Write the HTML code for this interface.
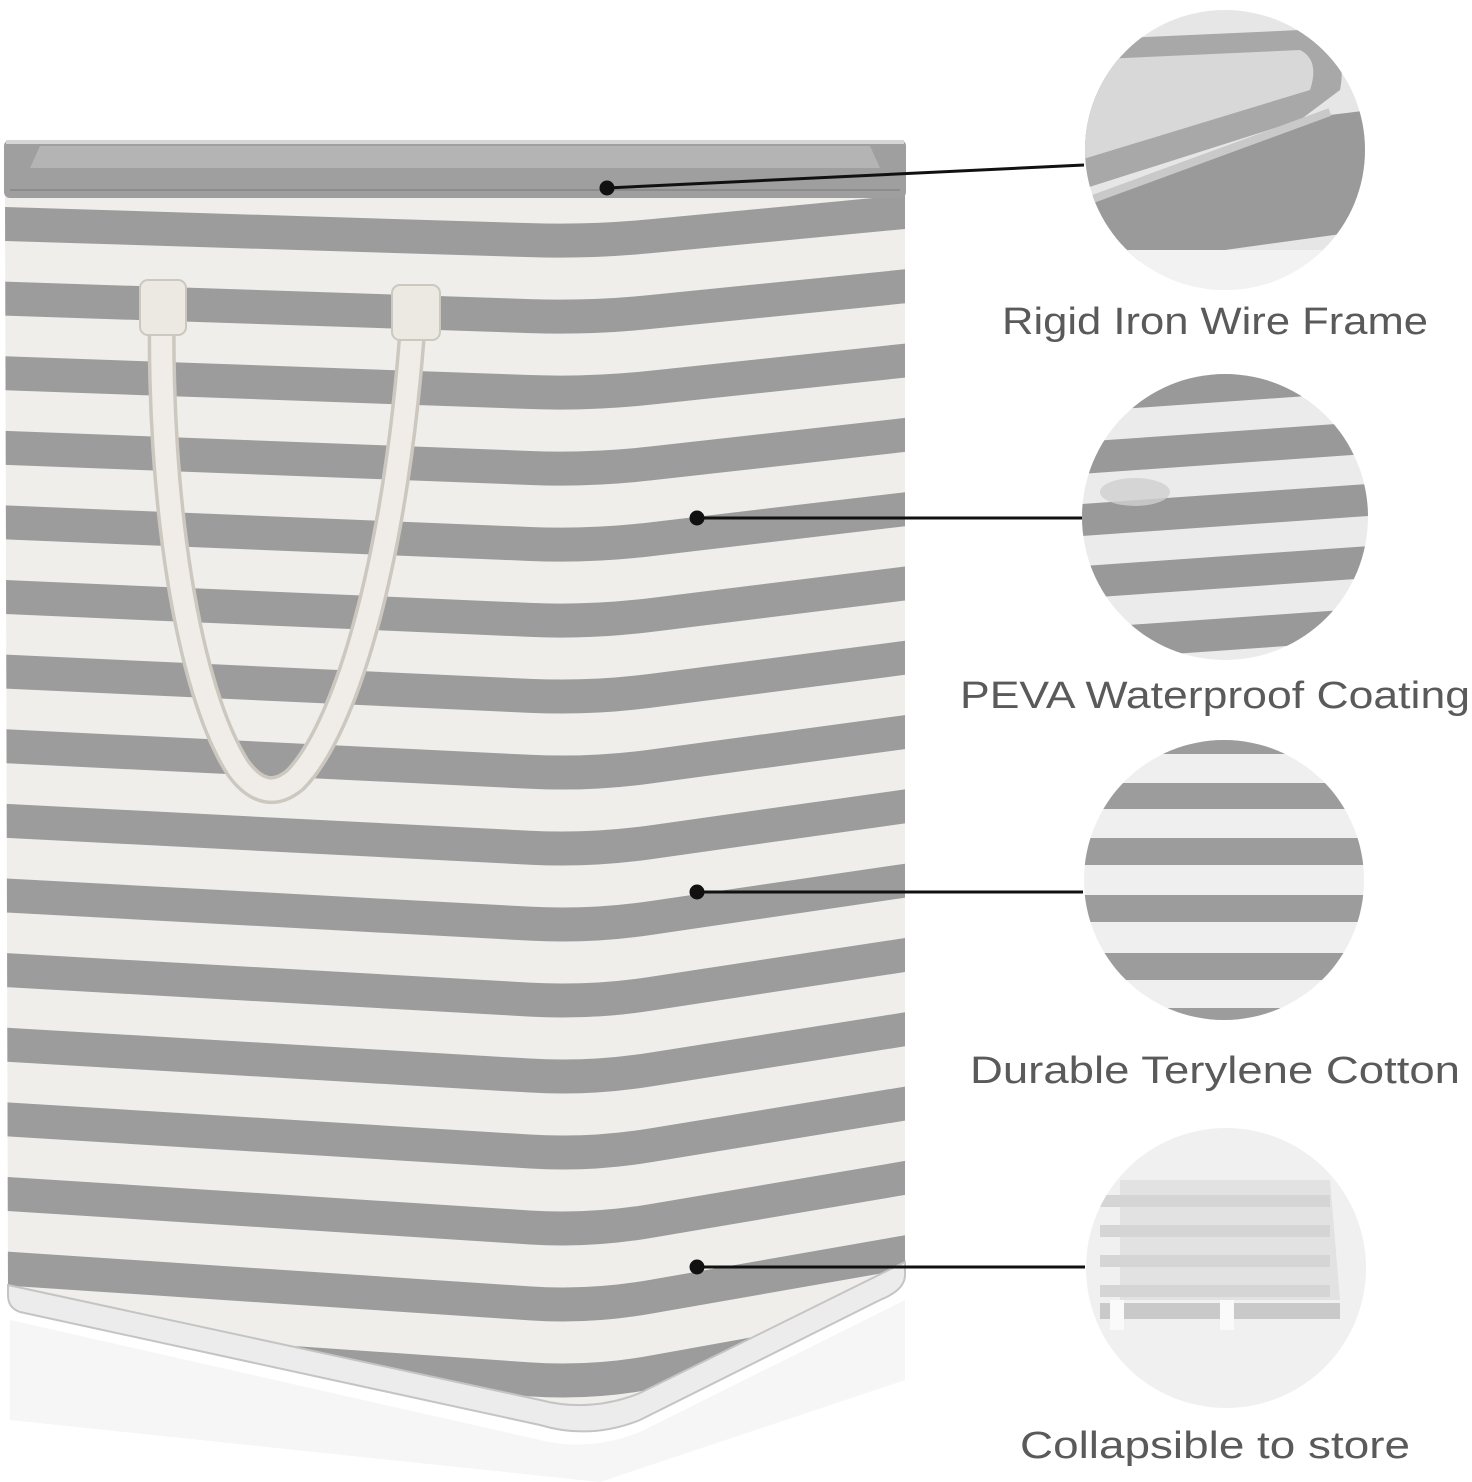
<!DOCTYPE html>
<html><head><meta charset="utf-8"><style>
html,body{margin:0;padding:0;background:#fff;}
svg{display:block}
text{font-family:"Liberation Sans",sans-serif;fill:#5a5a5a;}
</style></head><body>
<svg id="s" width="1472" height="1482" viewBox="0 0 1472 1482" xmlns="http://www.w3.org/2000/svg">
<defs>
<clipPath id="body"><path d="M5,192 L905,192 L905,1275 Q905,1290 880,1300 L640,1420 Q590,1440 540,1425 L20,1312 Q8,1308 8,1295 Z"/></clipPath>
<clipPath id="c1"><circle cx="1225" cy="150" r="140"/></clipPath>
<clipPath id="c2"><circle cx="1225" cy="517" r="143"/></clipPath>
<clipPath id="c3"><circle cx="1224" cy="880" r="140"/></clipPath>
<clipPath id="c4"><circle cx="1226" cy="1268" r="140"/></clipPath>
</defs>
<path d="M10,1320 L540,1440 Q590,1452 640,1432 L905,1300 L905,1380 L600,1482 L10,1420 Z" fill="#f6f6f6"/>
<g clip-path="url(#body)">
<rect x="0" y="190" width="910" height="1260" fill="#efeeeb"/>
<g id="stripes" fill="#9c9c9c"></g>
</g>
<path d="M8,1285 L540,1400 Q590,1413 640,1393 L905,1262 L905,1275 Q905,1290 880,1300 L640,1420 Q590,1440 540,1425 L20,1312 Q8,1308 8,1295 Z" fill="#ececec" stroke="#c4c4c4" stroke-width="2"/>
<rect x="4" y="140" width="902" height="58" rx="6" fill="#9f9f9f"/>
<path d="M40,146 L870,146 L880,168 L30,168 Z" fill="#b4b4b4"/>
<path d="M6,142 L904,142" stroke="#d6d6d6" stroke-width="4"/>
<path d="M10,190 L900,190" stroke="#8c8c8c" stroke-width="2"/>
<path d="M162,300 C158,500 188,690 238,768 Q265,805 295,780 C345,730 398,560 414,305" fill="none" stroke="#cdc8bf" stroke-width="28" stroke-linecap="round"/>
<path d="M162,300 C158,500 188,690 238,768 Q265,805 295,780 C345,730 398,560 414,305" fill="none" stroke="#f0ede8" stroke-width="21" stroke-linecap="round"/>
<rect x="140" y="280" width="46" height="55" rx="8" fill="#ece8e2" stroke="#cdc8bf" stroke-width="2"/>
<rect x="392" y="285" width="48" height="55" rx="8" fill="#ece8e2" stroke="#cdc8bf" stroke-width="2"/>
<g stroke="#111" stroke-width="3" fill="#111">
<line x1="607" y1="188" x2="1084" y2="165"/><circle cx="607" cy="188" r="6"/>
<line x1="697" y1="518" x2="1083" y2="518"/><circle cx="697" cy="518" r="6"/>
<line x1="697" y1="892" x2="1083" y2="892"/><circle cx="697" cy="892" r="6"/>
<line x1="697" y1="1267" x2="1085" y2="1267"/><circle cx="697" cy="1267" r="6"/>
</g>
<g clip-path="url(#c1)">
<rect x="1080" y="5" width="290" height="290" fill="#e6e6e6"/>
<path d="M1080,40 L1300,30 Q1350,40 1340,90 L1300,120 L1080,190 Z" fill="#a8a8a8"/>
<path d="M1080,60 L1300,50 Q1320,60 1310,90 L1080,160 Z" fill="#d8d8d8"/>
<path d="M1080,200 L1330,115 L1370,110 L1370,230 L1080,270 Z" fill="#9a9a9a"/>
<path d="M1090,200 L1330,112" stroke="#c9c9c9" stroke-width="8"/>
<rect x="1080" y="250" width="290" height="50" fill="#f2f2f2"/>
</g>
<g clip-path="url(#c2)">
<rect x="1080" y="370" width="290" height="300" fill="#ebebeb"/>
<g fill="#999" transform="rotate(-4 1225 517)">
<rect x="1060" y="372" width="330" height="30"/>
<rect x="1060" y="432" width="330" height="32"/>
<rect x="1060" y="494" width="330" height="32"/>
<rect x="1060" y="556" width="330" height="32"/>
<rect x="1060" y="618" width="330" height="32"/>
</g>
<ellipse cx="1135" cy="492" rx="35" ry="14" fill="#cfcfcf" opacity="0.8"/>
</g>
<g clip-path="url(#c3)">
<rect x="1080" y="740" width="290" height="280" fill="#efefef"/>
<g fill="#9c9c9c">
<rect x="1080" y="740" width="290" height="14"/>
<rect x="1080" y="783" width="290" height="26"/>
<rect x="1080" y="838" width="290" height="27"/>
<rect x="1080" y="895" width="290" height="27"/>
<rect x="1080" y="953" width="290" height="27"/>
<rect x="1080" y="1008" width="290" height="14"/>
</g>
</g>
<g clip-path="url(#c4)">
<rect x="1080" y="1120" width="295" height="295" fill="#f0f0f0"/>
<path d="M1120,1180 L1330,1180 L1340,1300 L1120,1300 Z" fill="#e2e2e2"/>
<g fill="#d5d5d5"><rect x="1100" y="1195" width="230" height="12"/><rect x="1100" y="1225" width="230" height="12"/><rect x="1100" y="1255" width="230" height="12"/><rect x="1100" y="1285" width="230" height="12"/></g>
<rect x="1100" y="1303" width="240" height="16" fill="#c9c9c9"/>
<rect x="1110" y="1300" width="14" height="30" fill="#fafafa"/><rect x="1220" y="1300" width="14" height="30" fill="#fafafa"/>
</g>
<text x="1215" y="334" font-size="38" text-anchor="middle" textLength="426" lengthAdjust="spacingAndGlyphs">Rigid Iron Wire Frame</text>
<text x="1215" y="708" font-size="38" text-anchor="middle" textLength="510" lengthAdjust="spacingAndGlyphs">PEVA Waterproof Coating</text>
<text x="1215" y="1083" font-size="38" text-anchor="middle" textLength="490" lengthAdjust="spacingAndGlyphs">Durable Terylene Cotton</text>
<text x="1215" y="1458" font-size="38" text-anchor="middle" textLength="390" lengthAdjust="spacingAndGlyphs">Collapsible to store</text>
</svg>
<script>
var g=document.getElementById('stripes'),h='';
for(var i=0;i<16;i++){
 var y=207+74.6*i,d=18+i*1.5,e=30+i*1.8,w=34;
 var a=y+d*525/585, c=y+d, b=y+d-e*60/315, r=y+d-e;
 h+='<path d="M5,'+y+' L530,'+a+' Q590,'+c+' 650,'+b+' L905,'+r+' L905,'+(r+w)+' L650,'+(b+w)+' Q590,'+(c+w)+' 530,'+(a+w)+' L5,'+(y+w)+' Z"/>';
}
g.innerHTML=h;
</script>
</body></html>
